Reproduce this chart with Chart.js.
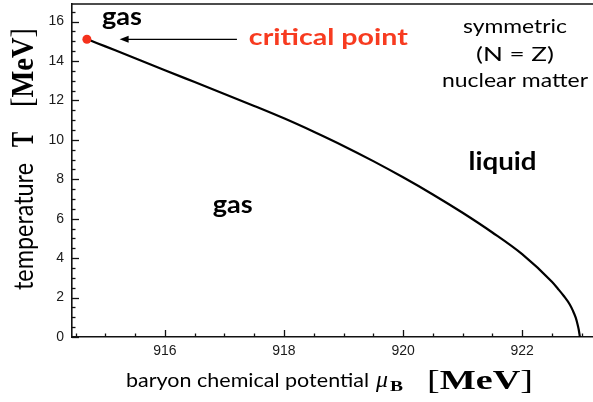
<!DOCTYPE html>
<html>
<head>
<meta charset="utf-8">
<script src="https://cdn.jsdelivr.net/npm/chart.js@4/dist/chart.umd.min.js"></script>
<style>
  html, body { margin: 0; padding: 0; background: #ffffff; }
  #wrap { width: 593px; height: 402px; position: relative; }
</style>
</head>
<body>
<div id="wrap"><canvas id="c" width="593" height="402"></canvas></div>
<script>
// ---- data ----
const muB = [914.70, 915.0, 915.5, 916.0, 916.5, 917.0, 917.5, 918.0, 918.5, 919.0, 919.5, 920.0, 920.5, 921.0, 921.5, 922.0, 922.5, 922.6, 922.7, 922.8, 922.85, 922.9, 922.93, 922.95, 922.97];
const temperature = [15.10, 14.74, 14.14, 13.53, 12.93, 12.33, 11.72, 11.09, 10.41, 9.69, 8.92, 8.10, 7.23, 6.30, 5.30, 4.20, 2.80, 2.45, 2.08, 1.65, 1.35, 0.98, 0.65, 0.38, 0.0];
const criticalMu = [914.69];
const criticalT = [15.10];
const xMajorTicks = [916, 918, 920, 922];
const yMajorTicks = [0, 2, 4, 6, 8, 10, 12, 14, 16];

const isMajor = (v, list) => list.some(m => Math.abs(m - v) < 1e-6);

function drawRun(ctx, parts, len, sy) {
  let w = 0;
  parts.forEach(p => { ctx.font = p.font; p.w = ctx.measureText(p.text).width; w += p.w; });
  const s = len ? len / w : 1;
  ctx.save();
  ctx.scale(s, sy || 1);
  ctx.textAlign = 'left';
  ctx.textBaseline = 'alphabetic';
  let cx = 0;
  parts.forEach(p => { ctx.font = p.font; ctx.fillText(p.text, cx, (p.dy || 0)); cx += p.w; });
  ctx.restore();
}

function drawAt(ctx, parts, x, y, len, align, sy) {
  let w = 0;
  parts.forEach(p => { ctx.font = p.font; w += ctx.measureText(p.text).width; });
  const L = len || w;
  ctx.save();
  ctx.translate(align === 'center' ? x - L / 2 : x, y);
  drawRun(ctx, parts, L, sy);
  ctx.restore();
}

const SANS = '"Lato", "Open Sans", sans-serif';
const SERIF = '"Liberation Serif", "DejaVu Serif", serif';

const decor = {
  id: 'decor',
  afterDraw(chart) {
    const { ctx, chartArea: a, scales: { x, y } } = chart;
    ctx.save();
    ctx.strokeStyle = '#111';
    ctx.lineWidth = 1.6;
    ctx.beginPath(); ctx.moveTo(a.left, a.top); ctx.lineTo(a.right, a.top); ctx.stroke();
    ctx.lineWidth = 1.3;
    x.ticks.forEach(t => {
      const px = Math.round(x.getPixelForValue(t.value)) + 0.5;
      const len = isMajor(t.value, xMajorTicks) ? 7 : 3.5;
      ctx.beginPath(); ctx.moveTo(px, a.bottom); ctx.lineTo(px, a.bottom - len); ctx.stroke();
    });
    y.ticks.forEach(t => {
      const py = Math.round(y.getPixelForValue(t.value)) + 0.5;
      const len = isMajor(t.value, yMajorTicks) ? 7 : 3.5;
      ctx.beginPath(); ctx.moveTo(a.left, py); ctx.lineTo(a.left + len, py); ctx.stroke();
    });

    // arrow pointing at the critical point
    const ay = y.getPixelForValue(15.10);
    const ax0 = x.getPixelForValue(917.21), ax1 = x.getPixelForValue(915.24);
    ctx.strokeStyle = '#000'; ctx.fillStyle = '#000'; ctx.lineWidth = 1.2;
    ctx.beginPath(); ctx.moveTo(ax0, ay); ctx.lineTo(ax1 + 6, ay); ctx.stroke();
    ctx.beginPath(); ctx.moveTo(ax1, ay); ctx.lineTo(ax1 + 9, ay - 3.5); ctx.lineTo(ax1 + 9, ay + 3.5); ctx.closePath(); ctx.fill();

    // in-plot labels (positions in data units)
    ctx.fillStyle = '#000';
    drawAt(ctx, [{ text: 'gas', font: 'bold 25px ' + SANS }], x.getPixelForValue(915.28), y.getPixelForValue(15.82), 40, 'center');
    drawAt(ctx, [{ text: 'gas', font: 'bold 25px ' + SANS }], x.getPixelForValue(917.14), y.getPixelForValue(6.29), 40, 'center');
    drawAt(ctx, [{ text: 'liquid', font: 'bold 25px ' + SANS }], x.getPixelForValue(921.67), y.getPixelForValue(8.47), 68, 'center');
    ctx.fillStyle = '#f73b20';
    drawAt(ctx, [{ text: 'critical point', font: 'bold 22px ' + SANS }], x.getPixelForValue(917.41), y.getPixelForValue(14.81), 159, 'left');
    ctx.fillStyle = '#000';
    drawAt(ctx, [{ text: 'symmetric', font: '20px ' + SANS }], x.getPixelForValue(921.88), y.getPixelForValue(15.42), 104, 'center');
    drawAt(ctx, [{ text: '(N = Z)', font: '20px ' + SANS }], x.getPixelForValue(921.88), y.getPixelForValue(14.0), 78, 'center');
    drawAt(ctx, [{ text: 'nuclear matter', font: '20px ' + SANS }], x.getPixelForValue(921.88), y.getPixelForValue(12.68), 146, 'center');

    // x axis title
    drawAt(ctx, [{ text: 'baryon chemical potential', font: '20px ' + SANS }], 126, 387, 243, 'left');
    drawAt(ctx, [{ text: 'μ', font: 'italic 24px ' + SERIF }], 376, 387, 12, 'left');
    drawAt(ctx, [{ text: 'B', font: 'bold 14px ' + SERIF }], 390, 391, 13, 'left');
    drawAt(ctx, [
      { text: '[', font: '27px ' + SERIF },
      { text: 'MeV', font: 'bold 27px ' + SERIF },
      { text: ']', font: '27px ' + SERIF }
    ], 427, 389, 106, 'left');

    // y axis title (rotated)
    const ytitle = (parts, startY, len, sy) => {
      ctx.save();
      ctx.translate(33, startY);
      ctx.rotate(-Math.PI / 2);
      drawRun(ctx, parts, len, sy);
      ctx.restore();
    };
    ytitle([{ text: 'temperature', font: '23px ' + SANS }], 290, 127, 1.15);
    ytitle([{ text: 'T', font: 'bold 26px ' + SERIF }], 147, 15, 1.2);
    ytitle([
      { text: '[', font: '28px ' + SERIF },
      { text: 'MeV', font: 'bold 28px ' + SERIF },
      { text: ']', font: '28px ' + SERIF }
    ], 107, 79, 1.15);
    ctx.restore();
  }
};

const ctx = document.getElementById('c').getContext('2d');
new Chart(ctx, {
  type: 'scatter',
  data: {
    datasets: [
      {
        data: muB.map((m, i) => ({ x: m, y: temperature[i] })),
        showLine: true,
        borderColor: '#000',
        borderWidth: 2.2,
        pointRadius: 0,
        cubicInterpolationMode: 'monotone',
        fill: false,
        order: 2
      },
      {
        data: criticalMu.map((m, i) => ({ x: m, y: criticalT[i] })),
        pointRadius: 4.5,
        pointBackgroundColor: '#f5311c',
        pointBorderWidth: 0,
        order: 1
      }
    ]
  },
  options: {
    responsive: false,
    animation: false,
    devicePixelRatio: 1,
    layout: { autoPadding: false, padding: { top: 4, left: 0, right: 0, bottom: 0 } },
    plugins: { legend: { display: false }, tooltip: { enabled: false } },
    scales: {
      x: {
        type: 'linear',
        min: 914.44,
        max: 923.19,
        afterFit(s) { s.height = 65; s.paddingLeft = 0; s.paddingRight = 0; },
        border: { display: true, color: '#111', width: 1.6 },
        grid: { display: true, drawOnChartArea: false, drawTicks: false },
        ticks: {
          stepSize: 0.5,
          includeBounds: false,
          autoSkip: false,
          maxRotation: 0,
          padding: 6,
          color: '#1a1a1a',
          font: { family: '"Liberation Sans", Arial, sans-serif', size: 14 },
          callback: (v) => isMajor(v, xMajorTicks) ? String(Math.round(v)) : ''
        }
      },
      y: {
        type: 'linear',
        min: 0,
        max: 16.89,
        afterFit(s) { s.width = 72; s.paddingTop = 0; s.paddingBottom = 0; },
        border: { display: true, color: '#111', width: 1.6 },
        grid: { display: true, drawOnChartArea: false, drawTicks: false },
        ticks: {
          stepSize: 0.5,
          includeBounds: false,
          autoSkip: false,
          padding: 8,
          color: '#1a1a1a',
          font: { family: '"Liberation Sans", Arial, sans-serif', size: 14 },
          callback: (v) => isMajor(v, yMajorTicks) ? String(Math.round(v)) : ''
        }
      }
    }
  },
  plugins: [decor]
});
</script>
</body>
</html>
